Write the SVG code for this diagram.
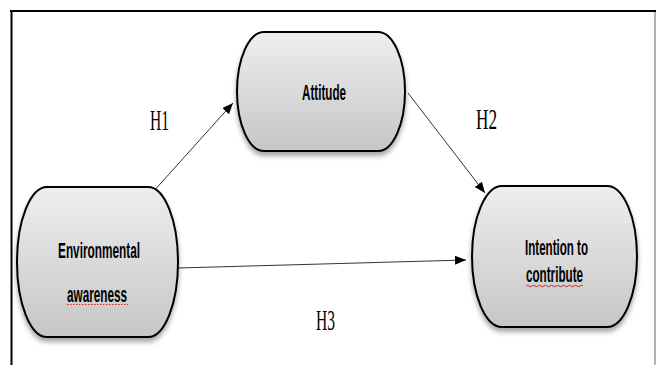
<svg xmlns="http://www.w3.org/2000/svg" width="656" height="365" viewBox="0 0 656 365">
<defs>
<linearGradient id="g" x1="0" y1="0" x2="0" y2="1">
<stop offset="0" stop-color="#eeeeee"/>
<stop offset="1" stop-color="#c6c6c6"/>
</linearGradient>
<filter id="sh" x="-20%" y="-20%" width="140%" height="140%">
<feDropShadow dx="0" dy="4" stdDeviation="2.5" flood-color="#000" flood-opacity="0.35"/>
</filter>
<marker id="ah" markerUnits="userSpaceOnUse" markerWidth="12" markerHeight="10" refX="11" refY="4.5" orient="auto">
<path d="M0,0 L11,4.5 L0,9 Z" fill="#000"/>
</marker>
</defs>
<style>
.node{fill:url(#g);stroke:#000;stroke-width:2;filter:url(#sh)}
.lbl{font-family:"Liberation Sans",Arial,sans-serif;font-size:12px;font-weight:bold;fill:#000;text-anchor:middle}
.h{font-family:"Liberation Serif","Times New Roman",serif;font-size:15px;fill:#000}
.edge{stroke:#333;stroke-width:1;fill:none;marker-end:url(#ah)}
.frame{stroke:#000;stroke-width:2;fill:none}
</style>
<g id="frame">
<line class="frame" x1="10" y1="11" x2="656" y2="11"/>
<line class="frame" x1="11.5" y1="10" x2="11.5" y2="365"/>
<line x1="655" y1="12" x2="655" y2="365" stroke="#999" stroke-width="1.5"/>
</g>
<g id="connectors">
<line class="edge" x1="152" y1="193" x2="233" y2="103"/>
<line class="edge" x1="408" y1="93" x2="485" y2="193"/>
<line class="edge" x1="178" y1="268" x2="466" y2="260"/>
</g>
<g id="node-attitude">
<path class="node" d="M264,32 H378 A27,59.5 0 0 1 378,151 H264 A27,59.5 0 0 1 264,32 Z"/>
<text class="lbl" transform="translate(324,100) scale(1,1.85)" textLength="44" lengthAdjust="spacingAndGlyphs">Attitude</text>
</g>
<g id="node-environmental">
<path class="node" d="M47,187 H148 A30,75 0 0 1 148,337 H47 A30,75 0 0 1 47,187 Z"/>
<text class="lbl" transform="translate(99,258) scale(1,1.85)" textLength="82" lengthAdjust="spacingAndGlyphs">Environmental</text>
<text class="lbl" transform="translate(97,302) scale(1,1.85)" textLength="60" lengthAdjust="spacingAndGlyphs">awareness</text>
<path d="M67,304.5 H128" stroke="#d22" stroke-width="1" stroke-dasharray="1.5,1.5"/>
</g>
<g id="node-intention">
<path class="node" d="M502,186 H607 A30,70.5 0 0 1 607,327 H502 A30,70.5 0 0 1 502,186 Z"/>
<text class="lbl" transform="translate(556.5,255) scale(1,1.85)" textLength="63" lengthAdjust="spacingAndGlyphs">Intention to</text>
<text class="lbl" transform="translate(554.5,282) scale(1,1.85)" textLength="57" lengthAdjust="spacingAndGlyphs">contribute</text>
<path d="M526,286 q1.5,-1.5 3,0 t3,0 t3,0 t3,0 t3,0 t3,0 t3,0 t3,0 t3,0 t3,0 t3,0 t3,0 t3,0 t3,0 t3,0 t3,0 t3,0 t3,0 t3,0" stroke="#d22" stroke-width="1" fill="none"/>
</g>
<g id="labels">
<text class="h" transform="translate(150,130) scale(1,1.9)" textLength="19" lengthAdjust="spacingAndGlyphs">H1</text>
<text class="h" transform="translate(476,129) scale(1,1.9)" textLength="21" lengthAdjust="spacingAndGlyphs">H2</text>
<text class="h" transform="translate(316,330) scale(1,1.9)" textLength="19" lengthAdjust="spacingAndGlyphs">H3</text>
</g>
</svg>
